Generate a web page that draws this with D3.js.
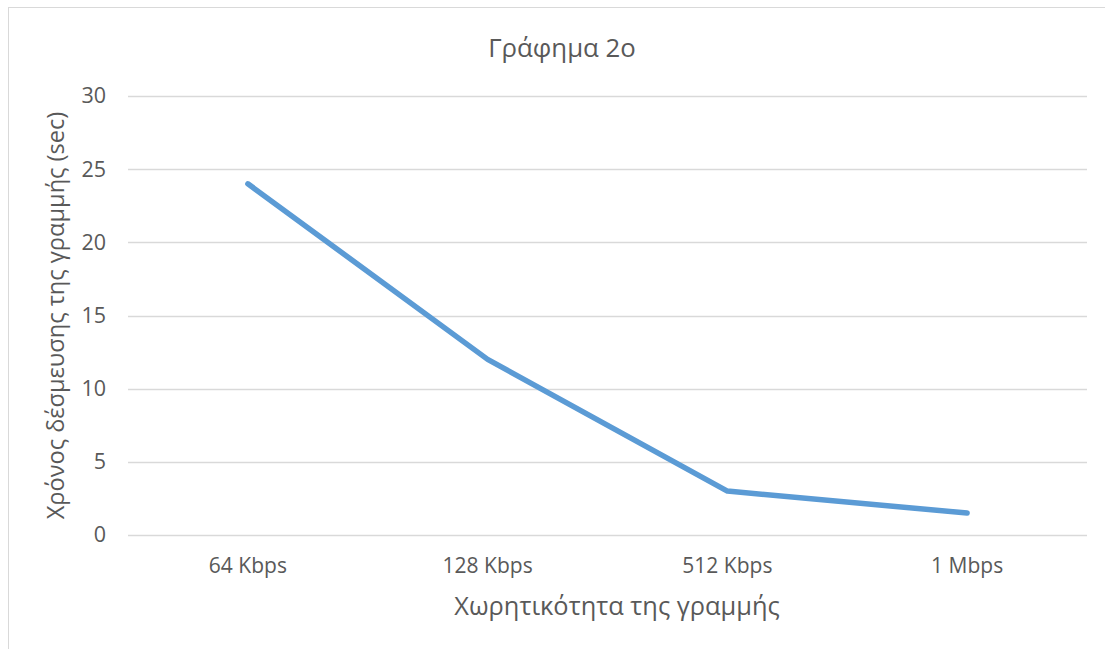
<!DOCTYPE html>
<html>
<head>
<meta charset="utf-8">
<script src="https://cdn.jsdelivr.net/npm/d3@7"></script>
<style>
  html, body { margin: 0; padding: 0; background: #fff; }
  svg { display: block; }
  text { font-family: "Open Sans", "Noto Sans", sans-serif; fill: #595959; }
</style>
</head>
<body>
<svg id="chart" width="1105" height="649"></svg>
<script>
const categories = ["64 Kbps", "128 Kbps", "512 Kbps", "1 Mbps"];
const values = [24, 12, 3, 1.5];
const yTicks = [0, 5, 10, 15, 20, 25, 30];
const chartTitle = "Γράφημα 2ο";
const xTitle = "Χωρητικότητα της γραμμής";
const yTitle = "Χρόνος δέσμευσης της γραμμής (sec)";

const svg = d3.select("#chart");
const plot = { left: 128, right: 1087, top: 96, bottom: 535 };

// chart area border (extends past the visible frame)
svg.append("rect")
  .attr("x", 8.5).attr("y", 7.5)
  .attr("width", 1200).attr("height", 800)
  .attr("fill", "#fff").attr("stroke", "#d9d9d9").attr("stroke-width", 1);

const x = d3.scaleBand().domain(categories).range([plot.left, plot.right]);
const y = d3.scaleLinear().domain([0, 30]).range([plot.bottom, plot.top]);

// gridlines
svg.append("g").selectAll("line").data(yTicks).join("line")
  .attr("x1", plot.left).attr("x2", plot.right)
  .attr("y1", d => Math.round(y(d)) + 0.5).attr("y2", d => Math.round(y(d)) + 0.5)
  .attr("stroke", "#d9d9d9").attr("stroke-width", 1.3);

// y axis tick labels
const yAxis = d3.axisLeft(y).tickValues(yTicks).tickSize(0).tickPadding(22);
const gy = svg.append("g").attr("transform", `translate(${plot.left},0)`).call(yAxis);
gy.select(".domain").remove();
gy.selectAll("text").style("font-size", "21.5px").attr("fill", "#595959")
  .style("font-family", '"Open Sans", sans-serif');

// x axis tick labels
const xAxis = d3.axisBottom(x).tickSize(0).tickPadding(23);
const gx = svg.append("g").attr("transform", `translate(0,${plot.bottom})`).call(xAxis);
gx.select(".domain").remove();
gx.selectAll("text").style("font-size", "21px").attr("fill", "#595959")
  .style("font-family", '"Open Sans", sans-serif');

// line
const line = d3.line()
  .x((d, i) => x(categories[i]) + x.bandwidth() / 2)
  .y(d => y(d));
svg.append("path").datum(values)
  .attr("d", line)
  .attr("fill", "none")
  .attr("stroke", "#5b9bd5")
  .attr("stroke-width", 5.5)
  .attr("stroke-linecap", "round")
  .attr("stroke-linejoin", "round");

// titles
svg.append("text").attr("x", 562).attr("y", 57)
  .attr("text-anchor", "middle").style("font-size", "25.8px").text(chartTitle);

svg.append("text").attr("x", 617).attr("y", 615)
  .attr("text-anchor", "middle").style("font-size", "25.4px").text(xTitle);

svg.append("text")
  .attr("transform", `translate(64,${(plot.top + plot.bottom) / 2}) rotate(-90)`)
  .attr("text-anchor", "middle").style("font-size", "23.6px").text(yTitle);
</script>
</body>
</html>
